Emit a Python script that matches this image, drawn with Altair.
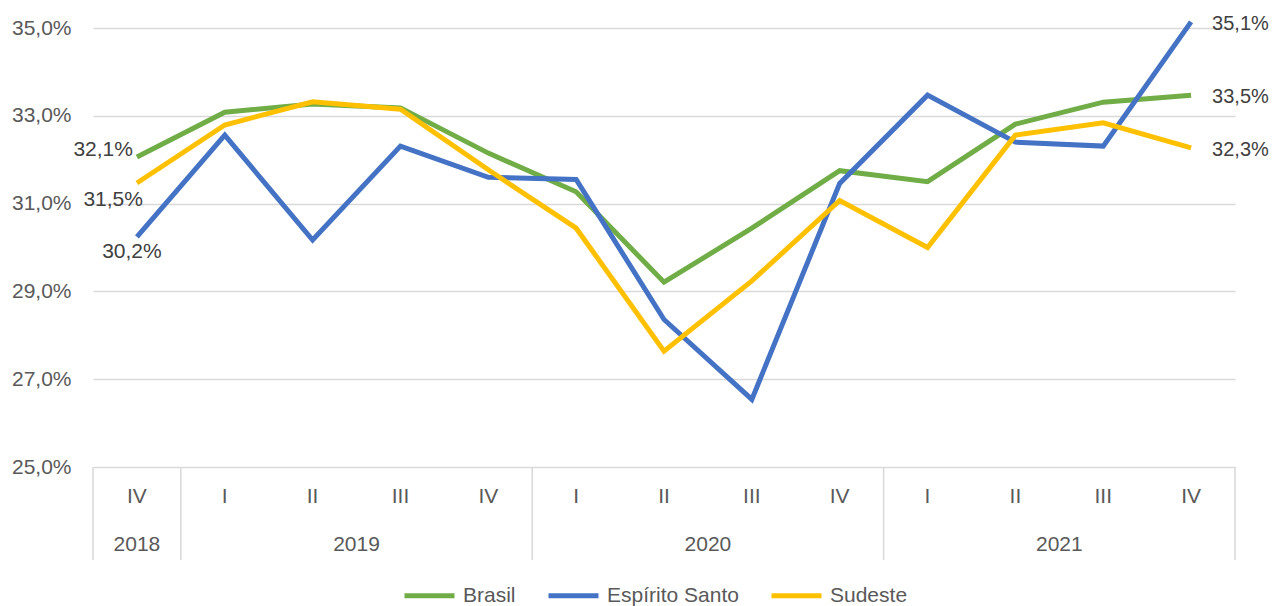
import altair as alt
import pandas as pd

quarters = ["IV", "I", "II", "III", "IV", "I", "II", "III", "IV", "I", "II", "III", "IV"]
years = ["2018", "2019", "2019", "2019", "2019", "2020", "2020", "2020", "2020",
         "2021", "2021", "2021", "2021"]
brasil = [32.06, 33.08, 33.27, 33.18, 32.15, 31.27, 29.21, 30.44, 31.75, 31.50, 32.81, 33.31, 33.47]
espirito_santo = [30.24, 32.56, 30.17, 32.31, 31.60, 31.55, 28.36, 26.54, 31.46, 33.47, 32.40, 32.31, 35.14]
sudeste = [31.47, 32.79, 33.32, 33.15, 31.77, 30.44, 27.64, 29.24, 31.07, 30.00, 32.56, 32.84, 32.27]
series_names = ["Brasil", "Espírito Santo", "Sudeste"]
series_colors = ["#70AD47", "#4472C4", "#FFC000"]
y_ticks = [25, 27, 29, 31, 33, 35]

FONT = "Liberation Sans"
FS = 21
GREY = "#595959"
GRID = "#D9D9D9"

rows = []
for name, vals in zip(series_names, [brasil, espirito_santo, sudeste]):
    for i, v in enumerate(vals):
        rows.append({"idx": i, "serie": name, "valor": v,
                     "rotulo": f"{v:.1f}".replace(".", ",") + "%"})
df = pd.DataFrame(rows)

qdf = pd.DataFrame({"idx": list(range(len(quarters))), "q": quarters, "ano": years})
ydf = qdf.groupby("ano", as_index=False)["idx"].mean()
bounds = [-0.5] + [i + 0.5 for i in range(len(years) - 1) if years[i] != years[i + 1]] + [len(years) - 0.5]
bdf = pd.DataFrame({"b": bounds})

n = len(quarters)
xscale = alt.Scale(domain=[-0.5, n - 0.5], nice=False, zero=False)
yscale = alt.Scale(domain=[25, 35], nice=False, zero=False)
H = 439

yaxis = alt.Axis(
    values=y_ticks, title=None, domain=False, ticks=False, grid=True,
    gridColor=GRID, gridWidth=1.5, labelFont=FONT, labelFontSize=FS,
    labelColor=GREY, labelPadding=22,
    labelExpr="replace(format(datum.value, '.1f'), '.', ',') + '%'")

lines = alt.Chart(df).mark_line(strokeWidth=5).encode(
    x=alt.X("idx:Q", scale=xscale, axis=None),
    y=alt.Y("valor:Q", scale=yscale, axis=yaxis),
    color=alt.Color("serie:N", sort=series_names,
                    scale=alt.Scale(domain=series_names, range=series_colors),
                    legend=alt.Legend(title=None, orient="none", direction="horizontal",
                                      legendX=309, legendY=540, symbolType="stroke",
                                      symbolSize=2500, symbolStrokeWidth=5,
                                      labelFont=FONT, labelFontSize=FS, labelColor=GREY,
                                      labelOffset=6, columnPadding=22)),
)

first = df[df["idx"] == 0].reset_index(drop=True)
last = df[df["idx"] == n - 1].reset_index(drop=True)


def lab_chart(data, align, dx, dy, fs=FS):
    return alt.Chart(data).mark_text(
        align=align, dx=dx, dy=dy, font=FONT, fontSize=fs, color="#404040", baseline="middle"
    ).encode(
        x=alt.X("idx:Q", scale=xscale, axis=None),
        y=alt.Y("valor:Q", scale=yscale, axis=yaxis),
        text=alt.Text("rotulo:N"),
    )


lab_b0 = lab_chart(first[first["serie"] == "Brasil"], "right", -4, -7)
lab_s0 = lab_chart(first[first["serie"] == "Sudeste"], "right", 6, 17)
lab_e0 = lab_chart(first[first["serie"] == "Espírito Santo"], "center", -5, 15)
lab_end = lab_chart(last, "left", 21, 2, 20)

qlabels = alt.Chart(qdf).mark_text(font=FONT, fontSize=FS, color=GREY, baseline="middle").encode(
    x=alt.X("idx:Q", scale=xscale, axis=None), y=alt.value(H + 30), text=alt.Text("q:N"))
ylabels = alt.Chart(ydf).mark_text(font=FONT, fontSize=FS, color=GREY, baseline="middle").encode(
    x=alt.X("idx:Q", scale=xscale, axis=None), y=alt.value(H + 78), text=alt.Text("ano:N"))
seps = alt.Chart(bdf).mark_rule(color=GRID, strokeWidth=1.5).encode(
    x=alt.X("b:Q", scale=xscale, axis=None), y=alt.value(H), y2=alt.value(H + 93))

chart = alt.layer(seps, lines, lab_b0, lab_s0, lab_e0, lab_end, qlabels, ylabels).properties(
    width=1142, height=H,
    autosize=alt.AutoSizeParams(type="none"),
    padding={"left": 85, "top": 20, "right": 35, "bottom": 139},
).configure_view(strokeWidth=0)

chart.save("out.html", embed_options={"renderer": "svg", "actions": False})
